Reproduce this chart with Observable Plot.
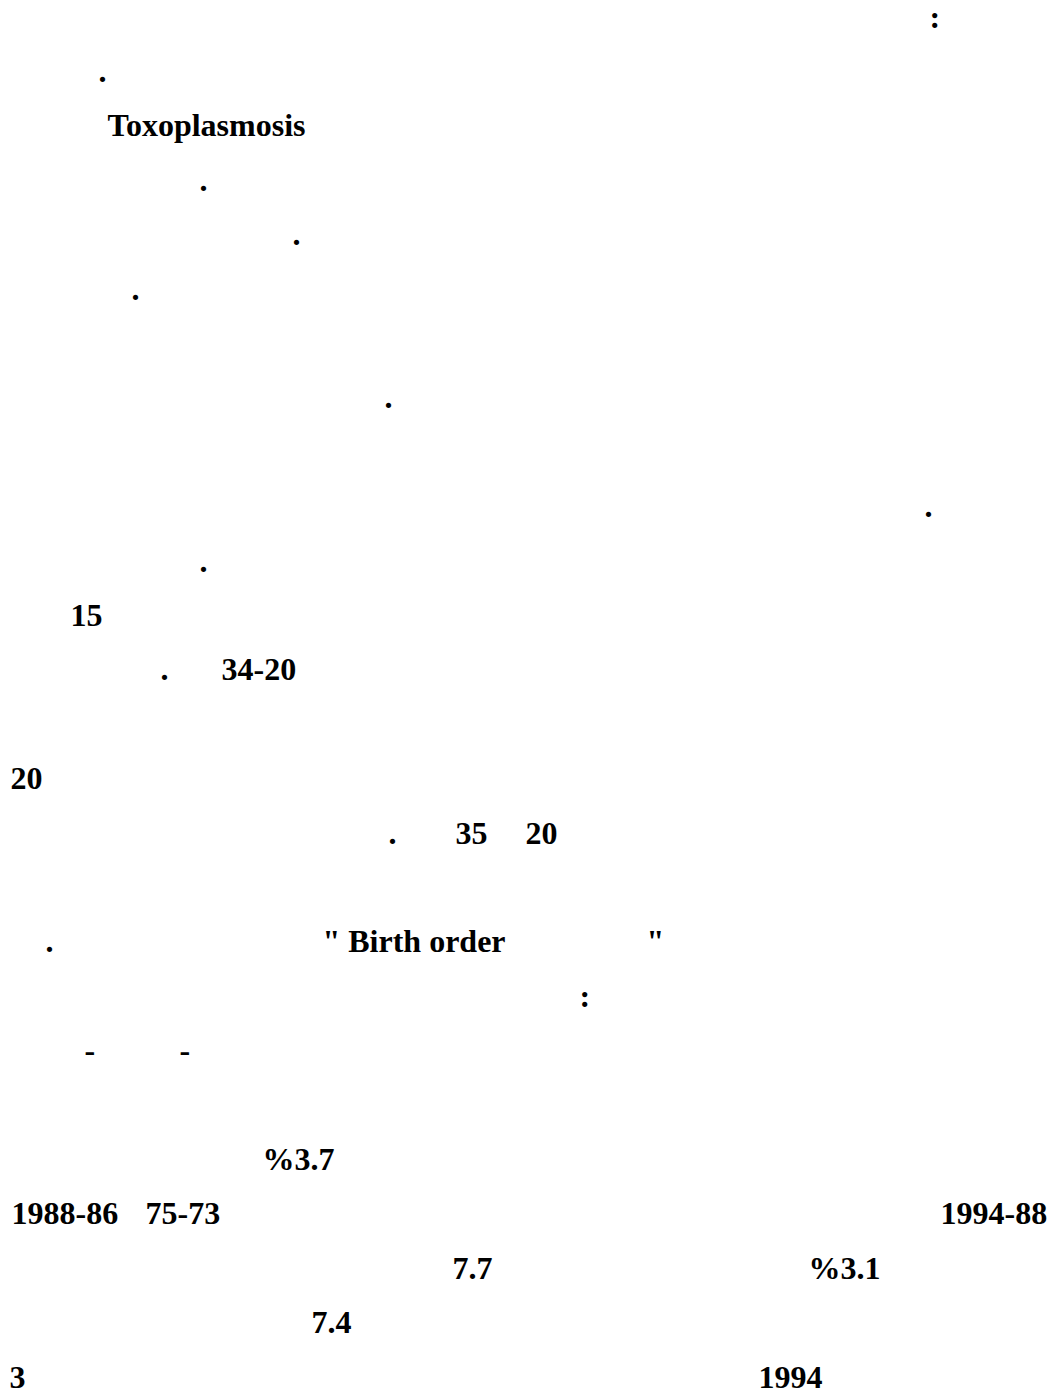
<!DOCTYPE html>
<html>
<head>
<meta charset="utf-8">
<script src="https://cdn.jsdelivr.net/npm/d3@7"></script>
<script src="https://cdn.jsdelivr.net/npm/@observablehq/plot@0.6"></script>
<style>
  html, body { margin: 0; padding: 0; background: #fff; }
  #chart svg { display: block; }
</style>
</head>
<body>
<div id="chart"></div>
<script>
// Text fragments that survive on the page (line number, left position in page units, text)
const lines = [0, 1, 2, 3, 4, 5, 7, 9, 10, 11, 12, 12, 14, 15, 15, 15, 17, 17, 17, 18, 19, 19, 21, 22, 22, 22, 23, 23, 24, 25, 25];
const lefts = [929, 98, 107, 199, 292, 131, 384, 924, 199, 70, 160, 221, 10, 388, 455, 525, 45, 322, 646, 579, 84, 179, 262, 11, 145, 940, 452, 808, 311, 9, 758];
const texts = [":", ".", "Toxoplasmosis", ".", ".", ".", ".", ".", ".", "15", ".", "34-20", "20", ".", "35", "20", ".", "\" Birth order", "\"", ":", "-", "-", "%3.7", "1988-86", "75-73", "1994-88", "7.7", "%3.1", "7.4", "3", "1994"];

const data = texts.map((t, i) => ({text: t, line: lines[i], left: lefts[i]}));

const chart = Plot.plot({
  width: 1061,
  height: 1395,
  margin: 0,
  x: {type: "linear", domain: [0, 1061], range: [0, 1061], axis: null},
  y: {type: "linear", domain: [0, 25], range: [27, 27 + 54.4 * 25], axis: null},
  style: {background: "#fff"},
  marks: [
    Plot.text(data, {
      x: "left",
      y: "line",
      text: "text",
      textAnchor: "start",
      lineAnchor: "bottom",
      fontFamily: "Liberation Serif, Times New Roman, serif",
      fontWeight: "bold",
      fontSize: 32,
      fill: "#000"
    })
  ]
});
document.getElementById("chart").appendChild(chart);
</script>
</body>
</html>
